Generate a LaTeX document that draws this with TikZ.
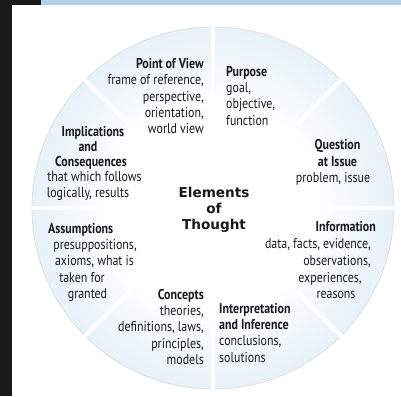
\documentclass[tikz,border=0pt]{standalone}
\usepackage{fontspec}
\setmainfont{PT Sans}[FakeStretch=0.84]
\newfontfamily\centerfont{DejaVu Sans}
\definecolor{eotblue}{RGB}{164,200,226}
\definecolor{eotmid}{RGB}{212,231,243}
\definecolor{topblue}{RGB}{178,208,232}
\definecolor{txt}{RGB}{25,25,28}
\pgfdeclareradialshading{eotshade}{\pgfpoint{0bp}{0bp}}{color(0bp)=(white); color(14bp)=(white); color(33bp)=(eotmid); color(50bp)=(eotblue); color(100bp)=(eotblue)}
\tikzset{
  tx/.style={inner sep=0pt, text=txt, font=\fontsize{14.2}{16}\selectfont},
  hd/.style={tx, font=\fontsize{14.2}{16}\selectfont\bfseries},
  ctr/.style={inner sep=0pt, text=txt, font=\fontsize{13.6}{16}\selectfont\centerfont\bfseries},
  div/.style={white, line width=4pt, shorten >=-2pt},
  le/.style={anchor=base west},
  ri/.style={anchor=base east},
}
\begin{document}
\begin{tikzpicture}[x=1pt,y=-1pt]
\useasboundingbox (0,0) rectangle (401,396);
\fill[white] (0,0) rectangle (401,396);
\fill[black!90] (0,0) rectangle (12,396);
\fill[black!90] (12,0) rectangle (41,5);
\fill[topblue] (41,0) rectangle (401,5);
% wheel
\node[circle, inner sep=0pt, minimum size=362pt, shading=eotshade, draw=black!12, line width=0.8pt] (wheel) at (213,208) {};
\foreach \a in {0,45,...,315} \draw[div] (wheel.center) -- (wheel.\a);
% Point of View
\node[hd,ri] (pv1) at (204,68) {Point of View};
\node[tx,ri] (pv2) at (204,84.5) {frame of reference,};
\node[tx,ri] (pv3) at (204,101) {perspective,};
\node[tx,ri] (pv4) at (204,117) {orientation,};
\node[tx,ri] (pv5) at (204,133) {world view};
% Purpose
\node[hd,le] (pu1) at (226,76) {Purpose};
\node[tx,le] (pu2) at (226,92) {goal,};
\node[tx,le] (pu3) at (226,108.5) {objective,};
\node[tx,le] (pu4) at (226,125) {function};
% Implications
\node[hd,anchor=base] (im1) at (93,136) {Implications};
\node[hd,anchor=base] (im2) at (88,151) {and};
\node[hd,anchor=base] (im3) at (91,166) {Consequences};
\node[tx,anchor=base] (im4) at (94.5,181) {that which follows};
\node[tx,anchor=base] (im5) at (88,197) {logically, results};
% Question
\node[hd,anchor=base] (qu1) at (337.5,149) {Question};
\node[hd,anchor=base] (qu2) at (337.5,166) {at Issue};
\node[tx,anchor=base] (qu3) at (333,182.5) {problem, issue};
% Center
\node[ctr,anchor=base] (el1) at (214,197) {Elements};
\node[ctr,anchor=base] (el2) at (214,213) {of};
\node[ctr,anchor=base] (el3) at (214,229.5) {Thought};
% Assumptions
\node[hd,le] (as1) at (48,233) {Assumptions};
\node[tx,anchor=base] (as2) at (95,249.3) {presuppositions,};
\node[tx,anchor=base] (as3) at (94.5,265.6) {axioms, what is};
\node[tx,anchor=base] (as4) at (82,282) {taken for};
\node[tx,anchor=base] (as5) at (87.5,298.3) {granted};
% Information
\node[hd,ri] (in1) at (376,231) {Information};
\node[tx,ri] (in2) at (371,248) {data, facts, evidence,};
\node[tx,ri] (in3) at (371,265) {observations,};
\node[tx,anchor=base] (in4) at (330,282) {experiences,};
\node[tx,anchor=base] (in5) at (336,298) {reasons};
% Concepts
\node[hd,ri] (co1) at (204,299) {Concepts};
\node[tx,ri] (co2) at (204,315.5) {theories,};
\node[tx,ri] (co3) at (204,331.8) {definitions, laws,};
\node[tx,ri] (co4) at (204,348) {principles,};
\node[tx,ri] (co5) at (204,364.3) {models};
% Interpretation
\node[hd,le] (ip1) at (219,313) {Interpretation};
\node[hd,le] (ip2) at (219,329.3) {and Inference};
\node[tx,le] (ip3) at (219,345.6) {conclusions,};
\node[tx,le] (ip4) at (219,362) {solutions};
\end{tikzpicture}
\end{document}
